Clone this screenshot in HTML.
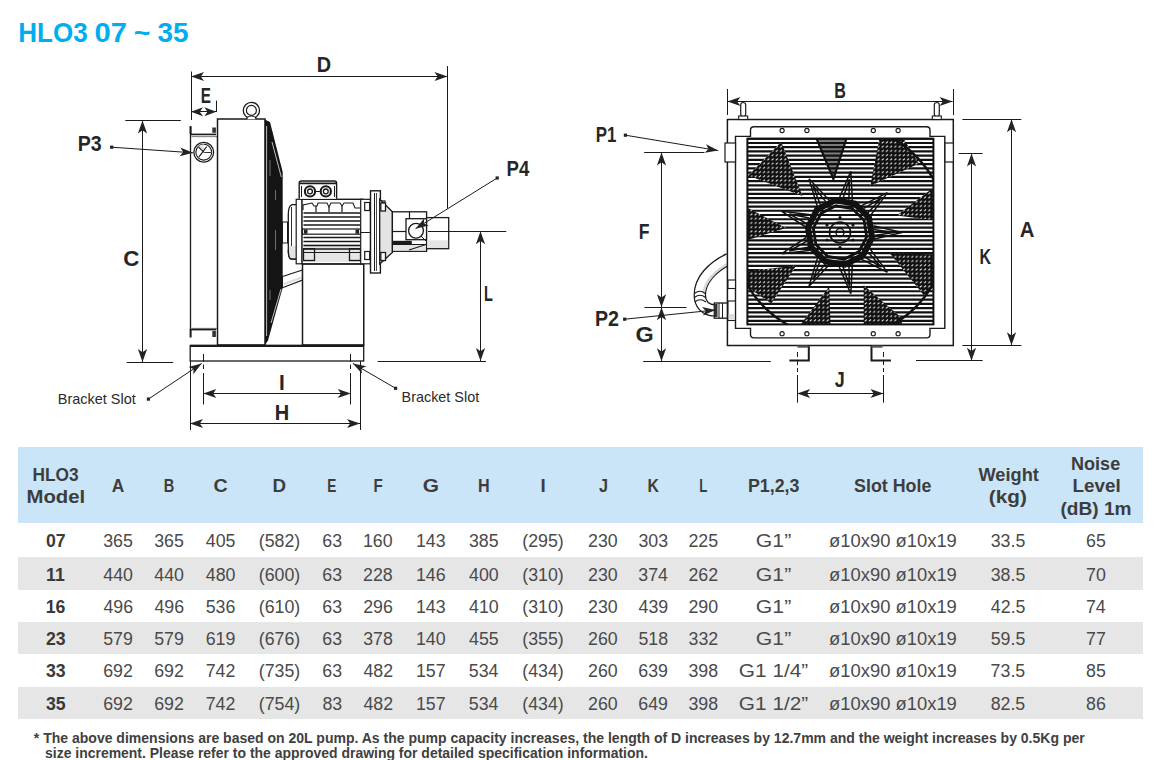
<!DOCTYPE html>
<html><head><meta charset="utf-8"><style>
html,body{margin:0;padding:0;background:#fff;width:1162px;height:760px;overflow:hidden}
svg{display:block;font-family:"Liberation Sans",sans-serif}
</style></head><body>
<svg width="1162" height="760" viewBox="0 0 1162 760">
<text x="18.32" y="41.6" font-size="27.8" font-weight="bold" fill="#00aeef" textLength="69.26" lengthAdjust="spacingAndGlyphs">HLO3</text><text x="94.45" y="41.6" font-size="27.8" font-weight="bold" fill="#00aeef" textLength="32.43" lengthAdjust="spacingAndGlyphs">07</text><text x="133.68" y="41.6" font-size="27.8" font-weight="bold" fill="#00aeef" textLength="16.58" lengthAdjust="spacingAndGlyphs">~</text><text x="157.40" y="41.6" font-size="27.8" font-weight="bold" fill="#00aeef" textLength="31.03" lengthAdjust="spacingAndGlyphs">35</text><rect x="18" y="447" width="1125" height="76" fill="#c9e5f7"/><rect x="18" y="557" width="1125" height="33" fill="#e6e6e6"/><rect x="18" y="622" width="1125" height="32" fill="#e6e6e6"/><rect x="18" y="687" width="1125" height="32" fill="#e6e6e6"/><text x="32.41" y="481.3" font-size="17.5" font-weight="bold" fill="#3d3d3d" textLength="46.15" lengthAdjust="spacingAndGlyphs">HLO3</text><text x="26.52" y="502.5" font-size="17.5" font-weight="bold" fill="#3d3d3d" textLength="58.73" lengthAdjust="spacingAndGlyphs">Model</text><text x="111.80" y="492.2" font-size="17.5" font-weight="bold" fill="#3d3d3d" textLength="12.53" lengthAdjust="spacingAndGlyphs">A</text><text x="163.78" y="492.2" font-size="17.5" font-weight="bold" fill="#3d3d3d" textLength="10.53" lengthAdjust="spacingAndGlyphs">B</text><text x="213.41" y="492.2" font-size="17.5" font-weight="bold" fill="#3d3d3d" textLength="14.18" lengthAdjust="spacingAndGlyphs">C</text><text x="272.42" y="492.2" font-size="17.5" font-weight="bold" fill="#3d3d3d" textLength="13.57" lengthAdjust="spacingAndGlyphs">D</text><text x="327.24" y="492.2" font-size="17.5" font-weight="bold" fill="#3d3d3d" textLength="9.08" lengthAdjust="spacingAndGlyphs">E</text><text x="373.55" y="492.2" font-size="17.5" font-weight="bold" fill="#3d3d3d" textLength="9.26" lengthAdjust="spacingAndGlyphs">F</text><text x="422.76" y="492.2" font-size="17.5" font-weight="bold" fill="#3d3d3d" textLength="16.24" lengthAdjust="spacingAndGlyphs">G</text><text x="478.08" y="492.2" font-size="17.5" font-weight="bold" fill="#3d3d3d" textLength="11.67" lengthAdjust="spacingAndGlyphs">H</text><text x="540.42" y="492.2" font-size="17.5" font-weight="bold" fill="#3d3d3d" textLength="5.24" lengthAdjust="spacingAndGlyphs">I</text><text x="599.12" y="492.2" font-size="17.5" font-weight="bold" fill="#3d3d3d" textLength="9.03" lengthAdjust="spacingAndGlyphs">J</text><text x="647.41" y="492.2" font-size="17.5" font-weight="bold" fill="#3d3d3d" textLength="11.42" lengthAdjust="spacingAndGlyphs">K</text><text x="699.27" y="492.2" font-size="17.5" font-weight="bold" fill="#3d3d3d" textLength="8.10" lengthAdjust="spacingAndGlyphs">L</text><text x="747.98" y="492.2" font-size="17.5" font-weight="bold" fill="#3d3d3d" textLength="51.53" lengthAdjust="spacingAndGlyphs">P1,2,3</text><text x="854.09" y="492.2" font-size="17.5" font-weight="bold" fill="#3d3d3d" textLength="77.26" lengthAdjust="spacingAndGlyphs">Slot Hole</text><text x="978.50" y="481" font-size="17.5" font-weight="bold" fill="#3d3d3d" textLength="60.41" lengthAdjust="spacingAndGlyphs">Weight</text><text x="988.85" y="503" font-size="17.5" font-weight="bold" fill="#3d3d3d" textLength="37.97" lengthAdjust="spacingAndGlyphs">(kg)</text><text x="1071.07" y="469.7" font-size="17.5" font-weight="bold" fill="#3d3d3d" textLength="49.11" lengthAdjust="spacingAndGlyphs">Noise</text><text x="1072.41" y="492.4" font-size="17.5" font-weight="bold" fill="#3d3d3d" textLength="48.23" lengthAdjust="spacingAndGlyphs">Level</text><text x="1060.53" y="515" font-size="17.5" font-weight="bold" fill="#3d3d3d" textLength="71.00" lengthAdjust="spacingAndGlyphs">(dB) 1m</text><text x="45.93" y="546.8" font-size="18" font-weight="bold" fill="#3a3a3a" textLength="19.67" lengthAdjust="spacingAndGlyphs">07</text><text x="103.18" y="546.8" font-size="18" font-weight="normal" fill="#4a4a4a" textLength="29.67" lengthAdjust="spacingAndGlyphs">365</text><text x="154.18" y="546.8" font-size="18" font-weight="normal" fill="#4a4a4a" textLength="29.67" lengthAdjust="spacingAndGlyphs">365</text><text x="205.83" y="546.8" font-size="18" font-weight="normal" fill="#4a4a4a" textLength="29.67" lengthAdjust="spacingAndGlyphs">405</text><text x="258.75" y="546.8" font-size="18" font-weight="normal" fill="#4a4a4a" textLength="41.51" lengthAdjust="spacingAndGlyphs">(582)</text><text x="322.37" y="546.8" font-size="18" font-weight="normal" fill="#4a4a4a" textLength="19.78" lengthAdjust="spacingAndGlyphs">63</text><text x="362.89" y="546.8" font-size="18" font-weight="normal" fill="#4a4a4a" textLength="29.67" lengthAdjust="spacingAndGlyphs">160</text><text x="415.93" y="546.8" font-size="18" font-weight="normal" fill="#4a4a4a" textLength="29.67" lengthAdjust="spacingAndGlyphs">143</text><text x="468.88" y="546.8" font-size="18" font-weight="normal" fill="#4a4a4a" textLength="29.67" lengthAdjust="spacingAndGlyphs">385</text><text x="522.25" y="546.8" font-size="18" font-weight="normal" fill="#4a4a4a" textLength="41.51" lengthAdjust="spacingAndGlyphs">(295)</text><text x="588.08" y="546.8" font-size="18" font-weight="normal" fill="#4a4a4a" textLength="29.67" lengthAdjust="spacingAndGlyphs">230</text><text x="638.43" y="546.8" font-size="18" font-weight="normal" fill="#4a4a4a" textLength="29.67" lengthAdjust="spacingAndGlyphs">303</text><text x="688.38" y="546.8" font-size="18" font-weight="normal" fill="#4a4a4a" textLength="29.67" lengthAdjust="spacingAndGlyphs">225</text><text x="755.84" y="546.8" font-size="18" font-weight="normal" fill="#4a4a4a" textLength="35.38" lengthAdjust="spacingAndGlyphs">G1”</text><text x="829.14" y="546.8" font-size="18" font-weight="normal" fill="#4a4a4a" textLength="127.70" lengthAdjust="spacingAndGlyphs">ø10x90 ø10x19</text><text x="990.71" y="546.8" font-size="18" font-weight="normal" fill="#4a4a4a" textLength="34.61" lengthAdjust="spacingAndGlyphs">33.5</text><text x="1086.02" y="546.8" font-size="18" font-weight="normal" fill="#4a4a4a" textLength="19.78" lengthAdjust="spacingAndGlyphs">65</text><text x="46.07" y="580.5" font-size="18" font-weight="bold" fill="#3a3a3a" textLength="18.69" lengthAdjust="spacingAndGlyphs">11</text><text x="103.33" y="580.5" font-size="18" font-weight="normal" fill="#4a4a4a" textLength="29.67" lengthAdjust="spacingAndGlyphs">440</text><text x="154.33" y="580.5" font-size="18" font-weight="normal" fill="#4a4a4a" textLength="29.67" lengthAdjust="spacingAndGlyphs">440</text><text x="205.83" y="580.5" font-size="18" font-weight="normal" fill="#4a4a4a" textLength="29.67" lengthAdjust="spacingAndGlyphs">480</text><text x="258.75" y="580.5" font-size="18" font-weight="normal" fill="#4a4a4a" textLength="41.51" lengthAdjust="spacingAndGlyphs">(600)</text><text x="322.37" y="580.5" font-size="18" font-weight="normal" fill="#4a4a4a" textLength="19.78" lengthAdjust="spacingAndGlyphs">63</text><text x="363.08" y="580.5" font-size="18" font-weight="normal" fill="#4a4a4a" textLength="29.67" lengthAdjust="spacingAndGlyphs">228</text><text x="415.93" y="580.5" font-size="18" font-weight="normal" fill="#4a4a4a" textLength="29.67" lengthAdjust="spacingAndGlyphs">146</text><text x="469.03" y="580.5" font-size="18" font-weight="normal" fill="#4a4a4a" textLength="29.67" lengthAdjust="spacingAndGlyphs">400</text><text x="522.25" y="580.5" font-size="18" font-weight="normal" fill="#4a4a4a" textLength="41.51" lengthAdjust="spacingAndGlyphs">(310)</text><text x="588.08" y="580.5" font-size="18" font-weight="normal" fill="#4a4a4a" textLength="29.67" lengthAdjust="spacingAndGlyphs">230</text><text x="638.28" y="580.5" font-size="18" font-weight="normal" fill="#4a4a4a" textLength="29.67" lengthAdjust="spacingAndGlyphs">374</text><text x="688.48" y="580.5" font-size="18" font-weight="normal" fill="#4a4a4a" textLength="29.67" lengthAdjust="spacingAndGlyphs">262</text><text x="755.84" y="580.5" font-size="18" font-weight="normal" fill="#4a4a4a" textLength="35.38" lengthAdjust="spacingAndGlyphs">G1”</text><text x="829.14" y="580.5" font-size="18" font-weight="normal" fill="#4a4a4a" textLength="127.70" lengthAdjust="spacingAndGlyphs">ø10x90 ø10x19</text><text x="990.71" y="580.5" font-size="18" font-weight="normal" fill="#4a4a4a" textLength="34.61" lengthAdjust="spacingAndGlyphs">38.5</text><text x="1086.02" y="580.5" font-size="18" font-weight="normal" fill="#4a4a4a" textLength="19.78" lengthAdjust="spacingAndGlyphs">70</text><text x="45.63" y="613.4" font-size="18" font-weight="bold" fill="#3a3a3a" textLength="19.67" lengthAdjust="spacingAndGlyphs">16</text><text x="103.38" y="613.4" font-size="18" font-weight="normal" fill="#4a4a4a" textLength="29.67" lengthAdjust="spacingAndGlyphs">496</text><text x="154.38" y="613.4" font-size="18" font-weight="normal" fill="#4a4a4a" textLength="29.67" lengthAdjust="spacingAndGlyphs">496</text><text x="205.73" y="613.4" font-size="18" font-weight="normal" fill="#4a4a4a" textLength="29.67" lengthAdjust="spacingAndGlyphs">536</text><text x="258.75" y="613.4" font-size="18" font-weight="normal" fill="#4a4a4a" textLength="41.51" lengthAdjust="spacingAndGlyphs">(610)</text><text x="322.37" y="613.4" font-size="18" font-weight="normal" fill="#4a4a4a" textLength="19.78" lengthAdjust="spacingAndGlyphs">63</text><text x="363.13" y="613.4" font-size="18" font-weight="normal" fill="#4a4a4a" textLength="29.67" lengthAdjust="spacingAndGlyphs">296</text><text x="415.93" y="613.4" font-size="18" font-weight="normal" fill="#4a4a4a" textLength="29.67" lengthAdjust="spacingAndGlyphs">143</text><text x="469.03" y="613.4" font-size="18" font-weight="normal" fill="#4a4a4a" textLength="29.67" lengthAdjust="spacingAndGlyphs">410</text><text x="522.25" y="613.4" font-size="18" font-weight="normal" fill="#4a4a4a" textLength="41.51" lengthAdjust="spacingAndGlyphs">(310)</text><text x="588.08" y="613.4" font-size="18" font-weight="normal" fill="#4a4a4a" textLength="29.67" lengthAdjust="spacingAndGlyphs">230</text><text x="638.58" y="613.4" font-size="18" font-weight="normal" fill="#4a4a4a" textLength="29.67" lengthAdjust="spacingAndGlyphs">439</text><text x="688.38" y="613.4" font-size="18" font-weight="normal" fill="#4a4a4a" textLength="29.67" lengthAdjust="spacingAndGlyphs">290</text><text x="755.84" y="613.4" font-size="18" font-weight="normal" fill="#4a4a4a" textLength="35.38" lengthAdjust="spacingAndGlyphs">G1”</text><text x="829.14" y="613.4" font-size="18" font-weight="normal" fill="#4a4a4a" textLength="127.70" lengthAdjust="spacingAndGlyphs">ø10x90 ø10x19</text><text x="990.86" y="613.4" font-size="18" font-weight="normal" fill="#4a4a4a" textLength="34.61" lengthAdjust="spacingAndGlyphs">42.5</text><text x="1085.92" y="613.4" font-size="18" font-weight="normal" fill="#4a4a4a" textLength="19.78" lengthAdjust="spacingAndGlyphs">74</text><text x="45.88" y="645.3" font-size="18" font-weight="bold" fill="#3a3a3a" textLength="19.67" lengthAdjust="spacingAndGlyphs">23</text><text x="103.23" y="645.3" font-size="18" font-weight="normal" fill="#4a4a4a" textLength="29.67" lengthAdjust="spacingAndGlyphs">579</text><text x="154.23" y="645.3" font-size="18" font-weight="normal" fill="#4a4a4a" textLength="29.67" lengthAdjust="spacingAndGlyphs">579</text><text x="205.63" y="645.3" font-size="18" font-weight="normal" fill="#4a4a4a" textLength="29.67" lengthAdjust="spacingAndGlyphs">619</text><text x="258.75" y="645.3" font-size="18" font-weight="normal" fill="#4a4a4a" textLength="41.51" lengthAdjust="spacingAndGlyphs">(676)</text><text x="322.37" y="645.3" font-size="18" font-weight="normal" fill="#4a4a4a" textLength="19.78" lengthAdjust="spacingAndGlyphs">63</text><text x="363.18" y="645.3" font-size="18" font-weight="normal" fill="#4a4a4a" textLength="29.67" lengthAdjust="spacingAndGlyphs">378</text><text x="415.89" y="645.3" font-size="18" font-weight="normal" fill="#4a4a4a" textLength="29.67" lengthAdjust="spacingAndGlyphs">140</text><text x="469.03" y="645.3" font-size="18" font-weight="normal" fill="#4a4a4a" textLength="29.67" lengthAdjust="spacingAndGlyphs">455</text><text x="522.25" y="645.3" font-size="18" font-weight="normal" fill="#4a4a4a" textLength="41.51" lengthAdjust="spacingAndGlyphs">(355)</text><text x="588.08" y="645.3" font-size="18" font-weight="normal" fill="#4a4a4a" textLength="29.67" lengthAdjust="spacingAndGlyphs">260</text><text x="638.38" y="645.3" font-size="18" font-weight="normal" fill="#4a4a4a" textLength="29.67" lengthAdjust="spacingAndGlyphs">518</text><text x="688.58" y="645.3" font-size="18" font-weight="normal" fill="#4a4a4a" textLength="29.67" lengthAdjust="spacingAndGlyphs">332</text><text x="755.84" y="645.3" font-size="18" font-weight="normal" fill="#4a4a4a" textLength="35.38" lengthAdjust="spacingAndGlyphs">G1”</text><text x="829.14" y="645.3" font-size="18" font-weight="normal" fill="#4a4a4a" textLength="127.70" lengthAdjust="spacingAndGlyphs">ø10x90 ø10x19</text><text x="990.71" y="645.3" font-size="18" font-weight="normal" fill="#4a4a4a" textLength="34.61" lengthAdjust="spacingAndGlyphs">59.5</text><text x="1086.12" y="645.3" font-size="18" font-weight="normal" fill="#4a4a4a" textLength="19.78" lengthAdjust="spacingAndGlyphs">77</text><text x="45.98" y="677.3" font-size="18" font-weight="bold" fill="#3a3a3a" textLength="19.67" lengthAdjust="spacingAndGlyphs">33</text><text x="103.18" y="677.3" font-size="18" font-weight="normal" fill="#4a4a4a" textLength="29.67" lengthAdjust="spacingAndGlyphs">692</text><text x="154.18" y="677.3" font-size="18" font-weight="normal" fill="#4a4a4a" textLength="29.67" lengthAdjust="spacingAndGlyphs">692</text><text x="205.68" y="677.3" font-size="18" font-weight="normal" fill="#4a4a4a" textLength="29.67" lengthAdjust="spacingAndGlyphs">742</text><text x="258.75" y="677.3" font-size="18" font-weight="normal" fill="#4a4a4a" textLength="41.51" lengthAdjust="spacingAndGlyphs">(735)</text><text x="322.37" y="677.3" font-size="18" font-weight="normal" fill="#4a4a4a" textLength="19.78" lengthAdjust="spacingAndGlyphs">63</text><text x="363.43" y="677.3" font-size="18" font-weight="normal" fill="#4a4a4a" textLength="29.67" lengthAdjust="spacingAndGlyphs">482</text><text x="415.98" y="677.3" font-size="18" font-weight="normal" fill="#4a4a4a" textLength="29.67" lengthAdjust="spacingAndGlyphs">157</text><text x="468.78" y="677.3" font-size="18" font-weight="normal" fill="#4a4a4a" textLength="29.67" lengthAdjust="spacingAndGlyphs">534</text><text x="522.25" y="677.3" font-size="18" font-weight="normal" fill="#4a4a4a" textLength="41.51" lengthAdjust="spacingAndGlyphs">(434)</text><text x="588.08" y="677.3" font-size="18" font-weight="normal" fill="#4a4a4a" textLength="29.67" lengthAdjust="spacingAndGlyphs">260</text><text x="638.33" y="677.3" font-size="18" font-weight="normal" fill="#4a4a4a" textLength="29.67" lengthAdjust="spacingAndGlyphs">639</text><text x="688.48" y="677.3" font-size="18" font-weight="normal" fill="#4a4a4a" textLength="29.67" lengthAdjust="spacingAndGlyphs">398</text><text x="738.86" y="677.3" font-size="18" font-weight="normal" fill="#4a4a4a" textLength="69.37" lengthAdjust="spacingAndGlyphs">G1 1/4”</text><text x="829.14" y="677.3" font-size="18" font-weight="normal" fill="#4a4a4a" textLength="127.70" lengthAdjust="spacingAndGlyphs">ø10x90 ø10x19</text><text x="990.61" y="677.3" font-size="18" font-weight="normal" fill="#4a4a4a" textLength="34.61" lengthAdjust="spacingAndGlyphs">73.5</text><text x="1086.07" y="677.3" font-size="18" font-weight="normal" fill="#4a4a4a" textLength="19.78" lengthAdjust="spacingAndGlyphs">85</text><text x="45.93" y="709.6" font-size="18" font-weight="bold" fill="#3a3a3a" textLength="19.67" lengthAdjust="spacingAndGlyphs">35</text><text x="103.18" y="709.6" font-size="18" font-weight="normal" fill="#4a4a4a" textLength="29.67" lengthAdjust="spacingAndGlyphs">692</text><text x="154.18" y="709.6" font-size="18" font-weight="normal" fill="#4a4a4a" textLength="29.67" lengthAdjust="spacingAndGlyphs">692</text><text x="205.68" y="709.6" font-size="18" font-weight="normal" fill="#4a4a4a" textLength="29.67" lengthAdjust="spacingAndGlyphs">742</text><text x="258.75" y="709.6" font-size="18" font-weight="normal" fill="#4a4a4a" textLength="41.51" lengthAdjust="spacingAndGlyphs">(754)</text><text x="322.42" y="709.6" font-size="18" font-weight="normal" fill="#4a4a4a" textLength="19.78" lengthAdjust="spacingAndGlyphs">83</text><text x="363.43" y="709.6" font-size="18" font-weight="normal" fill="#4a4a4a" textLength="29.67" lengthAdjust="spacingAndGlyphs">482</text><text x="415.98" y="709.6" font-size="18" font-weight="normal" fill="#4a4a4a" textLength="29.67" lengthAdjust="spacingAndGlyphs">157</text><text x="468.78" y="709.6" font-size="18" font-weight="normal" fill="#4a4a4a" textLength="29.67" lengthAdjust="spacingAndGlyphs">534</text><text x="522.25" y="709.6" font-size="18" font-weight="normal" fill="#4a4a4a" textLength="41.51" lengthAdjust="spacingAndGlyphs">(434)</text><text x="588.08" y="709.6" font-size="18" font-weight="normal" fill="#4a4a4a" textLength="29.67" lengthAdjust="spacingAndGlyphs">260</text><text x="638.33" y="709.6" font-size="18" font-weight="normal" fill="#4a4a4a" textLength="29.67" lengthAdjust="spacingAndGlyphs">649</text><text x="688.48" y="709.6" font-size="18" font-weight="normal" fill="#4a4a4a" textLength="29.67" lengthAdjust="spacingAndGlyphs">398</text><text x="738.86" y="709.6" font-size="18" font-weight="normal" fill="#4a4a4a" textLength="69.37" lengthAdjust="spacingAndGlyphs">G1 1/2”</text><text x="829.14" y="709.6" font-size="18" font-weight="normal" fill="#4a4a4a" textLength="127.70" lengthAdjust="spacingAndGlyphs">ø10x90 ø10x19</text><text x="990.66" y="709.6" font-size="18" font-weight="normal" fill="#4a4a4a" textLength="34.61" lengthAdjust="spacingAndGlyphs">82.5</text><text x="1086.12" y="709.6" font-size="18" font-weight="normal" fill="#4a4a4a" textLength="19.78" lengthAdjust="spacingAndGlyphs">86</text><text x="33.80" y="742.7" font-size="14.5" font-weight="bold" fill="#404040" textLength="1050.92" lengthAdjust="spacingAndGlyphs">* The above dimensions are based on 20L pump. As the pump capacity increases, the length of D increases by 12.7mm and the weight increases by 0.5Kg per</text><text x="45.02" y="757.7" font-size="14.5" font-weight="bold" fill="#404040" textLength="602.90" lengthAdjust="spacingAndGlyphs">size increment. Please refer to the approved drawing for detailed specification information.</text><g font-family="Liberation Sans"><line x1="190.5" y1="126.2" x2="190.5" y2="329.5" stroke="#1a1a1a" stroke-width="1.3" /><line x1="190.6" y1="126.2" x2="190.6" y2="134" stroke="#1a1a1a" stroke-width="2" /><line x1="190.6" y1="134.4" x2="216" y2="134.4" stroke="#1a1a1a" stroke-width="1.6" /><line x1="191.5" y1="136.5" x2="217" y2="136.5" stroke="#888" stroke-width="1.3" /><rect x="212.3" y="127.5" width="3.6" height="5.3" fill="#333"/><line x1="191.5" y1="328.5" x2="217" y2="328.5" stroke="#888" stroke-width="1.3" /><line x1="190.6" y1="329.6" x2="216" y2="329.6" stroke="#1a1a1a" stroke-width="1.6" /><line x1="190.6" y1="329" x2="190.6" y2="337.5" stroke="#1a1a1a" stroke-width="2" /><rect x="212.3" y="331" width="3.6" height="6" fill="#333"/><circle cx="203.75" cy="152.2" r="9.9" fill="none" stroke="#1a1a1a" stroke-width="1.3"/><circle cx="203.75" cy="152.2" r="7.9" fill="none" stroke="#1a1a1a" stroke-width="1.1"/><path d="M203.75,152.2 L203.75,144.3 A7.9,7.9 0 0,0 197.6,147.1 Z" fill="#e2e2e2"/><path d="M203.75,152.2L198.2,146.6M206.7,146.6L198.8,157.1M203.75,152.2L210.7,152.5" fill="none" stroke="#1a1a1a" stroke-width="1.1"/><rect x="217.5" y="119" width="47.5" height="226" fill="#fff" stroke="#1a1a1a" stroke-width="1.5"/><circle cx="251.4" cy="110.4" r="8.1" fill="none" stroke="#1a1a1a" stroke-width="1.3"/><circle cx="251.4" cy="110.4" r="5" fill="none" stroke="#1a1a1a" stroke-width="1.2"/><path d="M247,119.2 L247,117.5 Q251.4,114.5 255.8,117.5 L255.8,119.2" fill="#fff" stroke="#1a1a1a" stroke-width="1.2"/><path d="M264.8,119.5 L270,122 L282.7,172 L282.7,287.5 L268,340.5 L265,345 Z" fill="#141414"/><path d="M266.6,126 L266.6,336 M272,142 L281.3,177 M281,289 L271,323" stroke="#e8e8e8" stroke-width="0.8" fill="none"/><path d="M275.5,190 L275.5,200 M275.5,230 L275.5,250 M270,160 L270,176 M270,290 L270,300" stroke="#888" stroke-width="0.8" fill="none"/><rect x="282.5" y="222" width="5" height="21" fill="#fff" stroke="#1a1a1a" stroke-width="1"/><path d="M282.5,276.6 L302.5,270 L302.5,280 L282.5,287.8 Z" fill="#fff" stroke="#1a1a1a" stroke-width="1.1"/><path d="M284,284 L302,277.5" stroke="#ddd" stroke-width="2"/><rect x="302.5" y="264" width="61.25" height="81" fill="#fff" stroke="#1a1a1a" stroke-width="1.5"/><rect x="190.2" y="345.5" width="173.5" height="15.5" fill="#fff" stroke="#1a1a1a" stroke-width="1.3"/><line x1="190.2" y1="345.8" x2="363.7" y2="345.8" stroke="#1a1a1a" stroke-width="2.2" /><path d="M302,204.6 L292,204.6 Q288.3,206 288.3,214 L288.3,250 Q288.3,259.2 292,259.2 L302,259.2 Z" fill="#fff" stroke="#1a1a1a" stroke-width="1.3"/><line x1="291.5" y1="207" x2="291.5" y2="257" stroke="#1a1a1a" stroke-width="0.9" /><rect x="289" y="246" width="12" height="12" fill="#e4e4e4"/><path d="M288.3,250 Q288.3,259.2 292,259.2 L302,259.2" fill="none" stroke="#1a1a1a" stroke-width="1.3"/><rect x="296.2" y="199.3" width="6" height="64.5" fill="#fff" stroke="#1a1a1a" stroke-width="1.2"/><rect x="302" y="199.3" width="60.6" height="64.5" fill="#fff" stroke="#1a1a1a" stroke-width="1.4"/><rect x="303" y="244" width="59" height="18" fill="#e6e6e6"/><line x1="303.5" y1="213" x2="360.5" y2="213" stroke="#1a1a1a" stroke-width="1.7" /><line x1="303.5" y1="217" x2="360.5" y2="217" stroke="#1a1a1a" stroke-width="1.7" /><line x1="303.5" y1="221" x2="360.5" y2="221" stroke="#1a1a1a" stroke-width="1.7" /><line x1="303.5" y1="225" x2="360.5" y2="225" stroke="#1a1a1a" stroke-width="1.7" /><line x1="303.5" y1="237.5" x2="360.5" y2="237.5" stroke="#1a1a1a" stroke-width="1.7" /><line x1="303.5" y1="241.5" x2="360.5" y2="241.5" stroke="#1a1a1a" stroke-width="1.7" /><line x1="303.5" y1="245.5" x2="360.5" y2="245.5" stroke="#1a1a1a" stroke-width="1.7" /><line x1="303.5" y1="249" x2="360.5" y2="249" stroke="#1a1a1a" stroke-width="1.7" /><rect x="302.5" y="229" width="58" height="5.2" fill="#fff" stroke="#1a1a1a" stroke-width="1.2"/><rect x="304" y="229.5" width="3.5" height="4.2" fill="#222"/><rect x="355.5" y="229.5" width="3.5" height="4.2" fill="#222"/><path d="M303,210 L303,205 L312,203 L314,206 L317,206 L318,203 L327,203 L329,207 L331,203 L340,203 L342,206 L344,203 L353,203 L355,208 L360,208" fill="none" stroke="#1a1a1a" stroke-width="1.1"/><path d="M316,206 L316,212 M329,207 L329,212 M342,206 L342,212" fill="none" stroke="#1a1a1a" stroke-width="1.2"/><rect x="303.5" y="248.7" width="11" height="11.8" fill="none" stroke="#1a1a1a" stroke-width="1.3"/><rect x="349.5" y="248.7" width="11" height="11.8" fill="none" stroke="#1a1a1a" stroke-width="1.3"/><line x1="303" y1="252.5" x2="361" y2="252.5" stroke="#1a1a1a" stroke-width="1.2" /><rect x="360.7" y="199.3" width="9.8" height="64.5" fill="#fff" stroke="#1a1a1a" stroke-width="1.2"/><rect x="364.7" y="202.5" width="5" height="8" fill="none" stroke="#1a1a1a" stroke-width="1.2"/><rect x="364.7" y="251.5" width="5" height="8" fill="none" stroke="#1a1a1a" stroke-width="1.2"/><line x1="361" y1="232.5" x2="371" y2="232.5" stroke="#1a1a1a" stroke-width="1" /><path d="M299.2,198.7 L299.2,183 Q299.2,181 301.5,181 L334.3,181 Q336.6,181 336.6,183 L336.6,198.7" fill="#fff" stroke="#1a1a1a" stroke-width="1.4"/><line x1="299.5" y1="183.4" x2="336.3" y2="183.4" stroke="#1a1a1a" stroke-width="1.8" /><line x1="301.5" y1="186" x2="301.5" y2="197" stroke="#1a1a1a" stroke-width="1" /><line x1="334.5" y1="186" x2="334.5" y2="197" stroke="#1a1a1a" stroke-width="1" /><circle cx="310" cy="191.4" r="5.1" fill="none" stroke="#1a1a1a" stroke-width="2.1"/><circle cx="325.8" cy="191.4" r="5.1" fill="none" stroke="#1a1a1a" stroke-width="2.1"/><circle cx="310" cy="191.4" r="2.4" fill="none" stroke="#1a1a1a" stroke-width="1.3"/><circle cx="325.8" cy="191.4" r="2.4" fill="none" stroke="#1a1a1a" stroke-width="1.3"/><line x1="315" y1="191.5" x2="320.7" y2="191.5" stroke="#1a1a1a" stroke-width="1" /><rect x="370.5" y="190.8" width="9.9" height="82.2" fill="#fff" stroke="#1a1a1a" stroke-width="1.4"/><line x1="374.5" y1="193" x2="374.5" y2="271" stroke="#1a1a1a" stroke-width="1" /><line x1="376.5" y1="193" x2="376.5" y2="271" stroke="#1a1a1a" stroke-width="0.8" /><rect x="380.4" y="201" width="4.6" height="9.5" fill="none" stroke="#1a1a1a" stroke-width="1.2"/><rect x="380.4" y="251" width="4.6" height="9.5" fill="none" stroke="#1a1a1a" stroke-width="1.2"/><path d="M379.7,199.2 L392.4,211.8 L392.4,252.4 L379.7,264 Z" fill="#e4e4e4" stroke="#1a1a1a" stroke-width="1.3"/><rect x="380.8" y="203" width="4.7" height="8" fill="#fff" fill="none" stroke="#1a1a1a" stroke-width="1.3"/><rect x="380.8" y="252.5" width="4.7" height="8" fill="#fff" fill="none" stroke="#1a1a1a" stroke-width="1.3"/><rect x="392.4" y="211.8" width="34.2" height="39.5" fill="#fff" stroke="#1a1a1a" stroke-width="1.3"/><line x1="392.4" y1="231.5" x2="406" y2="231.5" stroke="#1a1a1a" stroke-width="1.2" /><line x1="409.5" y1="211.8" x2="409.5" y2="218.7" stroke="#1a1a1a" stroke-width="1.2" /><rect x="392.4" y="240.8" width="19.4" height="3.4" fill="#1a1a1a"/><rect x="393" y="245" width="33" height="5.5" fill="#e4e4e4"/><path d="M392.4,244.5 L426.6,244.5 M409,250 L426,244.5" fill="none" stroke="#1a1a1a" stroke-width="1.1"/><rect x="406" y="218.7" width="20.6" height="21" fill="#fff" stroke="#1a1a1a" stroke-width="1.3"/><circle cx="416" cy="230.8" r="7.4" fill="#fff" stroke="#1a1a1a" stroke-width="1.3"/><line x1="421" y1="236" x2="426" y2="241" stroke="#1a1a1a" stroke-width="1" /><rect x="426.6" y="217.6" width="22.1" height="31.1" fill="#fff" stroke="#1a1a1a" stroke-width="1.3"/><rect x="427.3" y="240.3" width="20.8" height="7.7" fill="#e4e4e4"/><line x1="191" y1="76.5" x2="447.5" y2="76.5" stroke="#1a1a1a" stroke-width="1.0" /><path d="M191.0,76.5L204.0,71.9L200.8,76.5L204.0,81.1Z" fill="#222"/><path d="M447.5,76.5L434.5,81.1L437.7,76.5L434.5,71.9Z" fill="#222"/><line x1="191.5" y1="71.5" x2="191.5" y2="120" stroke="#1a1a1a" stroke-width="1.0" /><line x1="447.5" y1="66" x2="447.5" y2="208.7" stroke="#1a1a1a" stroke-width="1.0" /><text x="316.71" y="72" font-size="21.5" font-weight="bold" fill="#262626" textLength="14.35" lengthAdjust="spacingAndGlyphs">D</text><line x1="191" y1="111.5" x2="216.3" y2="111.5" stroke="#1a1a1a" stroke-width="1.0" /><path d="M191.0,111.7L203.0,107.2L199.8,111.7L203.0,116.2Z" fill="#222"/><path d="M216.3,111.7L204.3,116.2L207.5,111.7L204.3,107.2Z" fill="#222"/><line x1="216.5" y1="100.6" x2="216.5" y2="112" stroke="#1a1a1a" stroke-width="1.0" /><text x="200.70" y="102.7" font-size="21.5" font-weight="bold" fill="#262626" textLength="10.19" lengthAdjust="spacingAndGlyphs">E</text><line x1="142.5" y1="120.4" x2="142.5" y2="362" stroke="#1a1a1a" stroke-width="1.0" /><path d="M142.5,120.4L147.1,133.4L142.5,130.2L137.9,133.4Z" fill="#222"/><path d="M142.5,362.0L137.9,349.0L142.5,352.2L147.1,349.0Z" fill="#222"/><line x1="125.3" y1="120.5" x2="180.8" y2="120.5" stroke="#1a1a1a" stroke-width="1.0" /><line x1="126.7" y1="362.5" x2="173.2" y2="362.5" stroke="#1a1a1a" stroke-width="1.0" /><text x="123.27" y="266.4" font-size="21.5" font-weight="bold" fill="#262626" textLength="16.08" lengthAdjust="spacingAndGlyphs">C</text><text x="77.72" y="150.5" font-size="21.5" font-weight="bold" fill="#262626" textLength="24.01" lengthAdjust="spacingAndGlyphs">P3</text><line x1="111.7" y1="147.2" x2="193" y2="152.8" stroke="#1a1a1a" stroke-width="1.0" /><rect x="110.10000000000001" y="145.6" width="3.2" height="3.2" fill="#222"/><path d="M193.0,152.8L179.7,156.2L183.2,152.1L180.3,147.6Z" fill="#222"/><line x1="480.5" y1="231.3" x2="480.5" y2="361" stroke="#1a1a1a" stroke-width="1.0" /><path d="M480.5,231.3L485.1,244.3L480.5,241.1L475.9,244.3Z" fill="#222"/><path d="M480.5,361.0L475.9,348.0L480.5,351.2L485.1,348.0Z" fill="#222"/><line x1="428" y1="231.5" x2="506.25" y2="231.5" stroke="#1a1a1a" stroke-width="1.0" /><line x1="377.7" y1="361.5" x2="486" y2="361.5" stroke="#1a1a1a" stroke-width="1.0" /><text x="484.05" y="301.25" font-size="21.5" font-weight="bold" fill="#262626" textLength="8.87" lengthAdjust="spacingAndGlyphs">L</text><text x="506.49" y="175.9" font-size="21.5" font-weight="bold" fill="#262626" textLength="22.80" lengthAdjust="spacingAndGlyphs">P4</text><line x1="497.2" y1="178" x2="415.5" y2="228.7" stroke="#1a1a1a" stroke-width="1.0" /><rect x="495.59999999999997" y="176.4" width="3.2" height="3.2" fill="#222"/><path d="M415.5,228.7L424.3,218.2L423.8,223.5L428.8,225.5Z" fill="#222"/><line x1="203.3" y1="393.5" x2="350.8" y2="393.5" stroke="#1a1a1a" stroke-width="1.0" /><path d="M203.3,393.5L216.3,388.9L213.1,393.5L216.3,398.1Z" fill="#222"/><path d="M350.8,393.5L337.8,398.1L341.0,393.5L337.8,388.9Z" fill="#222"/><line x1="203.5" y1="373" x2="203.5" y2="404.5" stroke="#1a1a1a" stroke-width="1.0" /><line x1="350.5" y1="373" x2="350.5" y2="404.5" stroke="#1a1a1a" stroke-width="1.0" /><line x1="203.5" y1="354" x2="203.5" y2="362" stroke="#1a1a1a" stroke-width="1.0" /><line x1="203.5" y1="364.6" x2="203.5" y2="369" stroke="#1a1a1a" stroke-width="1.0" /><line x1="350.5" y1="354" x2="350.5" y2="362" stroke="#1a1a1a" stroke-width="1.0" /><line x1="350.5" y1="364.6" x2="350.5" y2="369" stroke="#1a1a1a" stroke-width="1.0" /><text x="279.04" y="389.7" font-size="21.5" font-weight="bold" fill="#262626" textLength="5.79" lengthAdjust="spacingAndGlyphs">I</text><line x1="190" y1="423.5" x2="360" y2="423.5" stroke="#1a1a1a" stroke-width="1.0" /><path d="M190.0,423.5L203.0,418.9L199.8,423.5L203.0,428.1Z" fill="#222"/><path d="M360.0,423.5L347.0,428.1L350.2,423.5L347.0,418.9Z" fill="#222"/><line x1="190.5" y1="361" x2="190.5" y2="430" stroke="#1a1a1a" stroke-width="1.0" /><line x1="360.5" y1="361" x2="360.5" y2="430" stroke="#1a1a1a" stroke-width="1.0" /><text x="274.70" y="420.2" font-size="21.5" font-weight="bold" fill="#262626" textLength="14.43" lengthAdjust="spacingAndGlyphs">H</text><text x="57.88" y="403.75" font-size="14.2" font-weight="normal" fill="#2a2a2a" textLength="77.87" lengthAdjust="spacingAndGlyphs">Bracket Slot</text><text x="401.59" y="401.5" font-size="14.2" font-weight="normal" fill="#2a2a2a" textLength="77.57" lengthAdjust="spacingAndGlyphs">Bracket Slot</text><line x1="148.4" y1="399.1" x2="201.7" y2="363.5" stroke="#1a1a1a" stroke-width="1.0" /><rect x="146.8" y="397.5" width="3.2" height="3.2" fill="#222"/><path d="M201.7,363.5L193.3,374.3L193.6,368.9L188.5,367.1Z" fill="#222"/><line x1="395.6" y1="388.3" x2="352.9" y2="363.5" stroke="#1a1a1a" stroke-width="1.0" /><rect x="394.0" y="386.7" width="3.2" height="3.2" fill="#222"/><path d="M352.9,363.5L366.3,366.3L361.4,368.4L362.0,373.7Z" fill="#222"/></g><g font-family="Liberation Sans"><line x1="727.4" y1="101.5" x2="952.6" y2="101.5" stroke="#1a1a1a" stroke-width="1.0" /><path d="M727.4,101.5L740.4,96.9L737.2,101.5L740.4,106.1Z" fill="#222"/><path d="M952.6,101.5L939.6,106.1L942.8,101.5L939.6,96.9Z" fill="#222"/><line x1="727.5" y1="89" x2="727.5" y2="115" stroke="#1a1a1a" stroke-width="1.0" /><line x1="953.5" y1="89" x2="953.5" y2="115" stroke="#1a1a1a" stroke-width="1.0" /><text x="834.35" y="97.9" font-size="21.5" font-weight="bold" fill="#262626" textLength="11.64" lengthAdjust="spacingAndGlyphs">B</text><line x1="1011.5" y1="119.3" x2="1011.5" y2="345.2" stroke="#1a1a1a" stroke-width="1.0" /><path d="M1011.5,119.3L1016.1,132.3L1011.5,129.1L1006.9,132.3Z" fill="#222"/><path d="M1011.5,345.2L1006.9,332.2L1011.5,335.4L1016.1,332.2Z" fill="#222"/><line x1="962.4" y1="119.5" x2="1021.3" y2="119.5" stroke="#1a1a1a" stroke-width="1.0" /><line x1="962.4" y1="345.5" x2="1021.3" y2="345.5" stroke="#1a1a1a" stroke-width="1.0" /><text x="1019.73" y="237.3" font-size="21.5" font-weight="bold" fill="#262626" textLength="14.67" lengthAdjust="spacingAndGlyphs">A</text><line x1="971.5" y1="153.4" x2="971.5" y2="360.7" stroke="#1a1a1a" stroke-width="1.0" /><path d="M971.5,153.4L976.1,166.4L971.5,163.2L966.9,166.4Z" fill="#222"/><path d="M971.5,360.7L966.9,347.7L971.5,350.9L976.1,347.7Z" fill="#222"/><line x1="958.7" y1="153.5" x2="982.7" y2="153.5" stroke="#1a1a1a" stroke-width="1.0" /><line x1="916" y1="360.5" x2="982.7" y2="360.5" stroke="#1a1a1a" stroke-width="1.0" /><text x="979.46" y="263.8" font-size="21.5" font-weight="bold" fill="#262626" textLength="11.51" lengthAdjust="spacingAndGlyphs">K</text><line x1="661.5" y1="152.5" x2="661.5" y2="307.3" stroke="#1a1a1a" stroke-width="1.0" /><path d="M661.5,152.5L666.1,165.5L661.5,162.3L656.9,165.5Z" fill="#222"/><path d="M661.5,307.3L656.9,294.3L661.5,297.5L666.1,294.3Z" fill="#222"/><line x1="644.2" y1="152.5" x2="704.4" y2="152.5" stroke="#1a1a1a" stroke-width="1.0" /><line x1="644.5" y1="307.5" x2="686.6" y2="307.5" stroke="#1a1a1a" stroke-width="1.0" /><text x="638.85" y="239" font-size="21.5" font-weight="bold" fill="#262626" textLength="10.75" lengthAdjust="spacingAndGlyphs">F</text><line x1="661.5" y1="307.3" x2="661.5" y2="361.3" stroke="#1a1a1a" stroke-width="1.0" /><path d="M661.5,307.3L666.1,320.3L661.5,317.1L656.9,320.3Z" fill="#222"/><path d="M661.5,361.3L656.9,348.3L661.5,351.5L666.1,348.3Z" fill="#222"/><line x1="643.2" y1="361.5" x2="770.8" y2="361.5" stroke="#1a1a1a" stroke-width="1.0" /><text x="635.62" y="342" font-size="21.5" font-weight="bold" fill="#262626" textLength="18.22" lengthAdjust="spacingAndGlyphs">G</text><line x1="797.2" y1="393.5" x2="883.5" y2="393.5" stroke="#1a1a1a" stroke-width="1.0" /><path d="M797.2,393.5L810.2,388.9L807.0,393.5L810.2,398.1Z" fill="#222"/><path d="M883.5,393.5L870.5,398.1L873.7,393.5L870.5,388.9Z" fill="#222"/><line x1="797.5" y1="375" x2="797.5" y2="402.7" stroke="#1a1a1a" stroke-width="1.0" /><line x1="883.5" y1="375" x2="883.5" y2="402.7" stroke="#1a1a1a" stroke-width="1.0" /><line x1="797.5" y1="352" x2="797.5" y2="372" stroke="#1a1a1a" stroke-width="1.0" stroke-dasharray="5,3"/><line x1="883.5" y1="352" x2="883.5" y2="372" stroke="#1a1a1a" stroke-width="1.0" stroke-dasharray="5,3"/><text x="834.85" y="387.2" font-size="21.5" font-weight="bold" fill="#262626" textLength="9.96" lengthAdjust="spacingAndGlyphs">J</text><text x="595.70" y="142" font-size="21.5" font-weight="bold" fill="#262626" textLength="20.67" lengthAdjust="spacingAndGlyphs">P1</text><text x="595.02" y="325.8" font-size="21.5" font-weight="bold" fill="#262626" textLength="24.00" lengthAdjust="spacingAndGlyphs">P2</text><path d="M729,259 C712,267 699.8,280 699.8,295 C699.8,304 705,310 715,310.5" fill="none" stroke="#1a1a1a" stroke-width="12.5"/><path d="M729,259 C712,267 699.8,280 699.8,295 C699.8,304 705,310 715,310.5" fill="none" stroke="#fff" stroke-width="10"/><path d="M729,263 C716,270 705,281 703.5,293" fill="none" stroke="#d6d6d6" stroke-width="2.5"/><path d="M694.5,293.5 Q700,289 705,293.5 M694.5,297.5 Q700,293 705.5,297.5 M694.8,302 Q700,297.5 706,302" fill="none" stroke="#1a1a1a" stroke-width="1.1"/><rect x="727.4" y="119.5" width="225.9" height="226" fill="#fff" stroke="#1a1a1a" stroke-width="1.5"/><path d="M735.5,328.4 L735.5,136.4 L750.5,136.4 L750.5,130 Q750.5,126.7 754,126.7 L926.5,126.7 Q930,126.7 930,130 L930,136.4 L944.8,136.4 L944.8,328.4 L930,328.4 L930,334.5 Q930,337.9 926.5,337.9 L754,337.9 Q750.5,337.9 750.5,334.5 L750.5,328.4 Z" fill="none" stroke="#1a1a1a" stroke-width="1.4"/><circle cx="782.1" cy="130.5" r="2.1" fill="none" stroke="#1a1a1a" stroke-width="1.1"/><circle cx="782.1" cy="333.7" r="2.1" fill="none" stroke="#1a1a1a" stroke-width="1.1"/><circle cx="806.9" cy="130.5" r="2.1" fill="none" stroke="#1a1a1a" stroke-width="1.1"/><circle cx="806.9" cy="333.7" r="2.1" fill="none" stroke="#1a1a1a" stroke-width="1.1"/><circle cx="873.3" cy="130.5" r="2.1" fill="none" stroke="#1a1a1a" stroke-width="1.1"/><circle cx="873.3" cy="333.7" r="2.1" fill="none" stroke="#1a1a1a" stroke-width="1.1"/><circle cx="898.1" cy="130.5" r="2.1" fill="none" stroke="#1a1a1a" stroke-width="1.1"/><circle cx="898.1" cy="333.7" r="2.1" fill="none" stroke="#1a1a1a" stroke-width="1.1"/><rect x="740.7" y="102.5" width="5" height="14" rx="2.5" fill="#fff" stroke="#1a1a1a" stroke-width="1.2"/><rect x="738.7" y="116" width="9" height="3.5" fill="#fff" stroke="#1a1a1a" stroke-width="1.1"/><rect x="934.3" y="102.5" width="5" height="14" rx="2.5" fill="#fff" stroke="#1a1a1a" stroke-width="1.2"/><rect x="932.3" y="116" width="9" height="3.5" fill="#fff" stroke="#1a1a1a" stroke-width="1.1"/><rect x="725" y="143" width="10.5" height="19" fill="#fff" stroke="#1a1a1a" stroke-width="1.2"/><rect x="945" y="143" width="8.3" height="19" fill="#fff" stroke="#1a1a1a" stroke-width="1.2"/><rect x="728" y="280" width="7.5" height="8.5" fill="#fff" stroke="#1a1a1a" stroke-width="1.1"/><rect x="714.3" y="303" width="13" height="15.2" fill="#fff" stroke="#1a1a1a" stroke-width="1.3"/><rect x="714.5" y="304" width="3" height="13" fill="#333"/><path d="M719,303 L719,318 M722.5,303 L722.5,318" stroke="#1a1a1a" stroke-width="1"/><rect x="728" y="301" width="7.4" height="19.5" fill="#fff" stroke="#1a1a1a" stroke-width="1.1"/><rect x="728.6" y="314" width="6.2" height="5.5" fill="#ddd"/><path d="M789.4,360.6 L808.8,360.6 L808.8,345.5 M871.5,345.5 L871.5,360.6 L890.9,360.6" fill="none" stroke="#1a1a1a" stroke-width="2"/><rect x="797.5" y="345.5" width="11" height="2.2" fill="#555"/><rect x="871.5" y="345.5" width="11" height="2.2" fill="#555"/><rect x="747.4" y="138.75" width="186.0" height="185.64999999999998" fill="#fff"/><path d="M747.4,138.75H933.4M747.4,142.99H933.4M747.4,147.22H933.4M747.4,151.46H933.4M747.4,155.69H933.4M747.4,159.93H933.4M747.4,164.17H933.4M747.4,168.40H933.4M747.4,172.64H933.4M747.4,176.87H933.4M747.4,181.11H933.4M747.4,185.35H933.4M747.4,189.58H933.4M747.4,193.82H933.4M747.4,198.05H933.4M747.4,202.29H933.4M747.4,206.53H933.4M747.4,210.76H933.4M747.4,215.00H933.4M747.4,219.23H933.4M747.4,223.47H933.4M747.4,227.71H933.4M747.4,231.94H933.4M747.4,236.18H933.4M747.4,240.41H933.4M747.4,244.65H933.4M747.4,248.89H933.4M747.4,253.12H933.4M747.4,257.36H933.4M747.4,261.59H933.4M747.4,265.83H933.4M747.4,270.07H933.4M747.4,274.30H933.4M747.4,278.54H933.4M747.4,282.77H933.4M747.4,287.01H933.4M747.4,291.25H933.4M747.4,295.48H933.4M747.4,299.72H933.4M747.4,303.95H933.4M747.4,308.19H933.4M747.4,312.43H933.4M747.4,316.66H933.4M747.4,320.90H933.4" stroke="#111" stroke-width="2.2"/><defs><clipPath id="gc"><rect x="747.4" y="138.75" width="186.0" height="185.64999999999998"/></clipPath><pattern id="hat" width="4.236" height="4.236" patternUnits="userSpaceOnUse" patternTransform="translate(0,0.6)"><rect width="4.236" height="4.236" fill="#111"/><path d="M0.6,2.9 L2.6,1.3" stroke="#fff" stroke-width="0.9"/></pattern></defs><defs><clipPath id="gc2"><rect x="747.4" y="180" width="186" height="144.4"/><rect x="790" y="138.75" width="143.4" height="42"/></clipPath></defs><g clip-path="url(#gc)"><path d="M748.3,175.5 L779.9,143.2 L781.8,143.2 L802.5,196 Z" fill="url(#hat)"/><path d="M879.5,138 L903.2,138 L919,163.6 L870.3,186 Z" fill="url(#hat)"/><path d="M934,187.3 L934,220.2 L896.6,215.5 Z" fill="url(#hat)"/><path d="M890,253.6 L934,254.3 L934,286.5 L924.2,295.7 Z" fill="url(#hat)"/><path d="M863.7,285.2 L863.7,325 L901.8,325 L901.8,318.1 Z" fill="url(#hat)"/><path d="M829.2,286.5 L830.5,325 L800.3,325 Z" fill="url(#hat)"/><path d="M747,271.4 L796.3,265.5 L771.3,303.6 L747,286.5 Z" fill="url(#hat)"/><path d="M747,207.6 L747,240.3 L786,228 Z" fill="url(#hat)"/><path d="M816.3,138 L846.6,138 L833.4,179 Z" fill="#111" fill-opacity="0.55" stroke="#111" stroke-width="2.2"/></g><g clip-path="url(#gc2)"><circle cx="840" cy="231.5" r="107" fill="none" stroke="#111" stroke-width="2.4"/></g><path d="M839.1,198.5L850.8,171.4M852.4,200.9L850.8,171.4M842.9,198.6L849.4,179.3L848.9,199.7M861.2,205.9L887.5,192.6M869.9,216.3L887.5,192.6M864.0,208.4L881.4,197.8L867.9,213.1M873.3,225.7L902.0,232.5M873.3,239.3L902.0,232.5M873.9,229.4L894.0,232.5L873.9,235.6M869.9,248.7L887.5,272.4M861.2,259.1L887.5,272.4M867.9,251.9L881.4,267.2L864.0,256.6M852.4,264.1L850.8,293.6M839.1,266.5L850.8,293.6M848.9,265.3L849.4,285.7L842.9,266.4M829.2,264.7L809.0,286.2M817.5,258.0L809.0,286.2M825.7,263.4L813.0,279.3L820.4,260.3M811.0,250.2L781.7,253.7M806.4,237.5L781.7,253.7M809.2,247.0L789.3,251.0L807.1,241.2M806.4,227.5L781.7,211.3M811.0,214.8L781.7,211.3M807.1,223.8L789.3,214.0L809.2,218.0M817.5,207.0L809.0,178.8M829.2,200.3L809.0,178.8M820.4,204.7L813.0,185.7L825.7,201.6" fill="none" stroke="#111" stroke-width="1.5"/><path d="M872.1,237.7 L862.9,255.5 L845.0,264.6 L825.2,261.4 L811.0,247.2 L807.9,227.3 L817.1,209.5 L835.0,200.4 L854.8,203.6 L869.0,217.8 Z" fill="none" stroke="#111" stroke-width="6"/><path d="M866.7,236.8 L859.0,251.6 L844.1,259.2 L827.7,256.5 L815.9,244.7 L813.3,228.2 L821.0,213.4 L835.9,205.8 L852.3,208.5 L864.1,220.3 Z" fill="none" stroke="#111" stroke-width="2.8"/><circle cx="840" cy="232.5" r="10.5" fill="none" stroke="#111" stroke-width="1.6"/><circle cx="840" cy="232.5" r="4" fill="none" stroke="#111" stroke-width="1.4"/><circle cx="853.0" cy="240.0" r="1.6" fill="#111"/><circle cx="840.0" cy="247.5" r="1.6" fill="#111"/><circle cx="827.0" cy="240.0" r="1.6" fill="#111"/><circle cx="827.0" cy="225.0" r="1.6" fill="#111"/><circle cx="840.0" cy="217.5" r="1.6" fill="#111"/><circle cx="853.0" cy="225.0" r="1.6" fill="#111"/><rect x="747.4" y="138.75" width="186.0" height="185.64999999999998" fill="none" stroke="#111" stroke-width="2"/><line x1="625.4" y1="135.2" x2="718.2" y2="150.6" stroke="#1a1a1a" stroke-width="1.0" /><rect x="623.8" y="133.6" width="3.2" height="3.2" fill="#222"/><path d="M718.2,150.6L704.7,152.7L708.5,149.0L706.1,144.2Z" fill="#222"/><line x1="624.7" y1="319.2" x2="715.5" y2="310" stroke="#1a1a1a" stroke-width="1.0" /><rect x="623.1" y="317.59999999999997" width="3.2" height="3.2" fill="#222"/><path d="M715.5,310.0L703.0,315.6L705.7,311.0L702.1,307.0Z" fill="#222"/></g>
</svg></body></html>
